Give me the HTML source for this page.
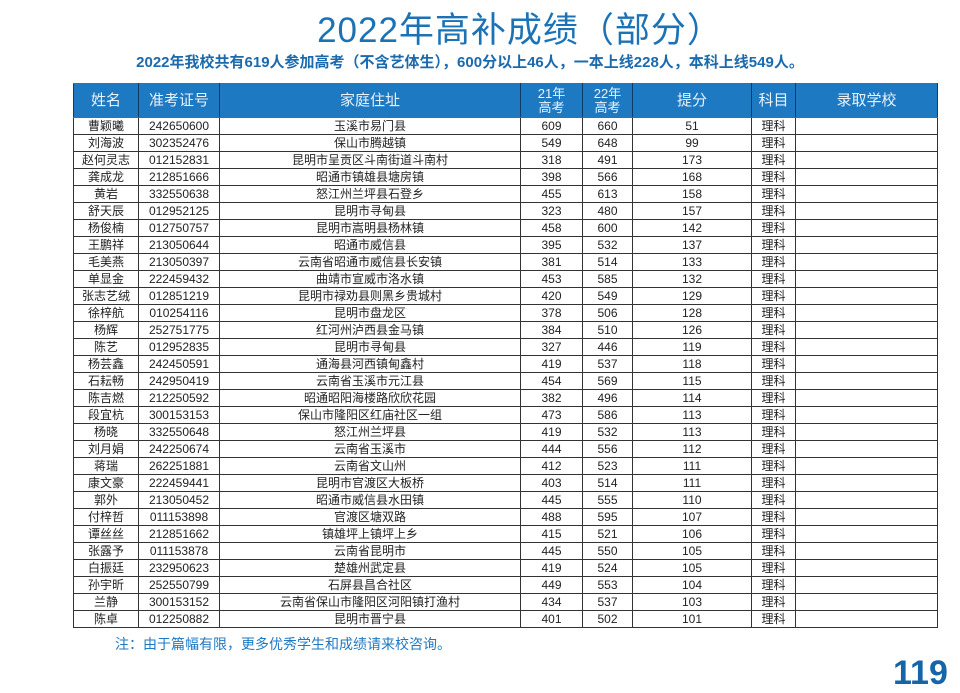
<!DOCTYPE html>
<html><head><meta charset="utf-8"><style>
body{margin:0;width:960px;height:660px;background:#fff;overflow:hidden;position:relative;font-family:"Liberation Sans","Noto Sans CJK SC",sans-serif}
.t{position:absolute;left:0;width:1040px;top:9px;text-align:center;font-size:35px;color:#1b72b5;letter-spacing:1px;line-height:44px}
.s{position:absolute;left:0;width:940px;top:53px;text-align:center;font-size:15px;font-weight:bold;color:#1a6aad;line-height:20px}
table{position:absolute;left:73px;top:83px;border-collapse:collapse;table-layout:fixed;width:864px}
td,th{border:1px solid #333;padding:0;text-align:center;font-size:12px;color:#222;height:16px;line-height:16px;overflow:hidden;white-space:nowrap}
th{background:#1e79c3;color:#e8f2fb;font-weight:normal;height:33px;font-size:15px;line-height:15px;border-color:#1e79c3 #0d3c66}
th.sm{font-size:13px;line-height:14px}
.n{position:absolute;left:115px;top:634px;font-size:14px;color:#1e79c3}
.p{position:absolute;left:893px;top:654px;font-size:34px;font-weight:bold;color:#1565a8}
</style></head><body>
<div class="t">2022年高补成绩（部分）</div>
<div class="s">2022年我校共有619人参加高考（不含艺体生），600分以上46人，一本上线228人，本科上线549人。</div>
<table>
<colgroup><col style="width:65px"><col style="width:81px"><col style="width:301px"><col style="width:62px"><col style="width:50px"><col style="width:119px"><col style="width:44px"><col style="width:142px"></colgroup>
<tr><th>姓名</th><th>准考证号</th><th>家庭住址</th><th class="sm">21年<br>高考</th><th class="sm">22年<br>高考</th><th>提分</th><th>科目</th><th>录取学校</th></tr>
<tr><td>曹颖曦</td><td>242650600</td><td>玉溪市易门县</td><td>609</td><td>660</td><td>51</td><td>理科</td><td></td></tr>
<tr><td>刘海波</td><td>302352476</td><td>保山市腾越镇</td><td>549</td><td>648</td><td>99</td><td>理科</td><td></td></tr>
<tr><td>赵何灵志</td><td>012152831</td><td>昆明市呈贡区斗南街道斗南村</td><td>318</td><td>491</td><td>173</td><td>理科</td><td></td></tr>
<tr><td>龚成龙</td><td>212851666</td><td>昭通市镇雄县塘房镇</td><td>398</td><td>566</td><td>168</td><td>理科</td><td></td></tr>
<tr><td>黄岩</td><td>332550638</td><td>怒江州兰坪县石登乡</td><td>455</td><td>613</td><td>158</td><td>理科</td><td></td></tr>
<tr><td>舒天辰</td><td>012952125</td><td>昆明市寻甸县</td><td>323</td><td>480</td><td>157</td><td>理科</td><td></td></tr>
<tr><td>杨俊楠</td><td>012750757</td><td>昆明市嵩明县杨林镇</td><td>458</td><td>600</td><td>142</td><td>理科</td><td></td></tr>
<tr><td>王鹏祥</td><td>213050644</td><td>昭通市威信县</td><td>395</td><td>532</td><td>137</td><td>理科</td><td></td></tr>
<tr><td>毛美燕</td><td>213050397</td><td>云南省昭通市威信县长安镇</td><td>381</td><td>514</td><td>133</td><td>理科</td><td></td></tr>
<tr><td>单显金</td><td>222459432</td><td>曲靖市宣威市洛水镇</td><td>453</td><td>585</td><td>132</td><td>理科</td><td></td></tr>
<tr><td>张志艺绒</td><td>012851219</td><td>昆明市禄劝县则黑乡贵城村</td><td>420</td><td>549</td><td>129</td><td>理科</td><td></td></tr>
<tr><td>徐梓航</td><td>010254116</td><td>昆明市盘龙区</td><td>378</td><td>506</td><td>128</td><td>理科</td><td></td></tr>
<tr><td>杨辉</td><td>252751775</td><td>红河州泸西县金马镇</td><td>384</td><td>510</td><td>126</td><td>理科</td><td></td></tr>
<tr><td>陈艺</td><td>012952835</td><td>昆明市寻甸县</td><td>327</td><td>446</td><td>119</td><td>理科</td><td></td></tr>
<tr><td>杨芸鑫</td><td>242450591</td><td>通海县河西镇甸鑫村</td><td>419</td><td>537</td><td>118</td><td>理科</td><td></td></tr>
<tr><td>石耘畅</td><td>242950419</td><td>云南省玉溪市元江县</td><td>454</td><td>569</td><td>115</td><td>理科</td><td></td></tr>
<tr><td>陈吉燃</td><td>212250592</td><td>昭通昭阳海楼路欣欣花园</td><td>382</td><td>496</td><td>114</td><td>理科</td><td></td></tr>
<tr><td>段宜杭</td><td>300153153</td><td>保山市隆阳区红庙社区一组</td><td>473</td><td>586</td><td>113</td><td>理科</td><td></td></tr>
<tr><td>杨晓</td><td>332550648</td><td>怒江州兰坪县</td><td>419</td><td>532</td><td>113</td><td>理科</td><td></td></tr>
<tr><td>刘月娟</td><td>242250674</td><td>云南省玉溪市</td><td>444</td><td>556</td><td>112</td><td>理科</td><td></td></tr>
<tr><td>蒋瑞</td><td>262251881</td><td>云南省文山州</td><td>412</td><td>523</td><td>111</td><td>理科</td><td></td></tr>
<tr><td>康文豪</td><td>222459441</td><td>昆明市官渡区大板桥</td><td>403</td><td>514</td><td>111</td><td>理科</td><td></td></tr>
<tr><td>郭外</td><td>213050452</td><td>昭通市威信县水田镇</td><td>445</td><td>555</td><td>110</td><td>理科</td><td></td></tr>
<tr><td>付梓哲</td><td>011153898</td><td>官渡区塘双路</td><td>488</td><td>595</td><td>107</td><td>理科</td><td></td></tr>
<tr><td>谭丝丝</td><td>212851662</td><td>镇雄坪上镇坪上乡</td><td>415</td><td>521</td><td>106</td><td>理科</td><td></td></tr>
<tr><td>张露予</td><td>011153878</td><td>云南省昆明市</td><td>445</td><td>550</td><td>105</td><td>理科</td><td></td></tr>
<tr><td>白振廷</td><td>232950623</td><td>楚雄州武定县</td><td>419</td><td>524</td><td>105</td><td>理科</td><td></td></tr>
<tr><td>孙宇昕</td><td>252550799</td><td>石屏县昌合社区</td><td>449</td><td>553</td><td>104</td><td>理科</td><td></td></tr>
<tr><td>兰静</td><td>300153152</td><td>云南省保山市隆阳区河阳镇打渔村</td><td>434</td><td>537</td><td>103</td><td>理科</td><td></td></tr>
<tr><td>陈卓</td><td>012250882</td><td>昆明市晋宁县</td><td>401</td><td>502</td><td>101</td><td>理科</td><td></td></tr>
</table>
<div class="n">注：由于篇幅有限，更多优秀学生和成绩请来校咨询。</div>
<div class="p">119</div>
</body></html>
